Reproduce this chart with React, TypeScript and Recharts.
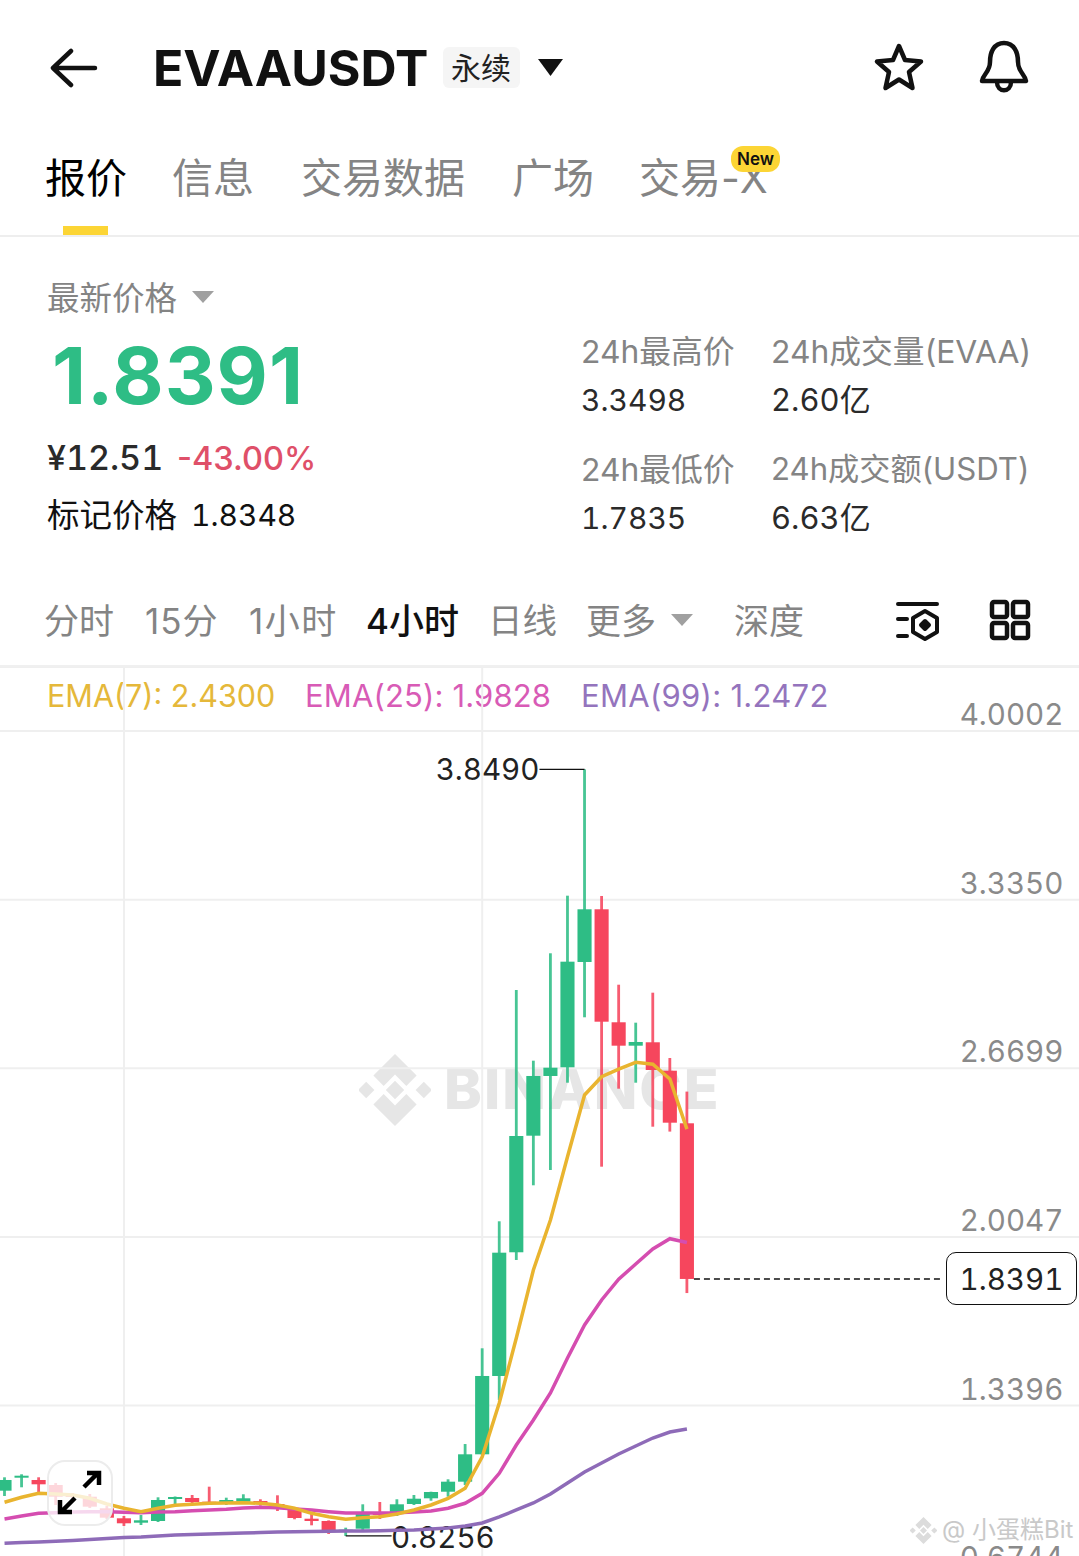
import React from 'react';
import { ComposedChart, Bar, Line, XAxis, YAxis, CartesianGrid } from 'recharts';

const highs = [1.0568,1.0687,1.0568,1.0343,0.9949,0.9910,0.9436,0.9042,0.9081,0.9779,0.9811,0.9870,1.0198,0.9764,0.9898,0.9701,0.9858,0.9357,0.9148,0.8870,0.8581,0.9503,0.9594,0.9701,0.9870,1.0000,1.0489,1.1880,1.5656,2.0665,2.9787,2.6999,3.1235,3.3507,3.8490,3.3495,2.9996,2.8498,2.9681,2.7105,2.5780];
const opens = [1.0040,1.0553,1.0462,1.0265,0.9870,0.9803,0.9346,0.8951,0.8778,0.8845,0.9712,0.9752,0.9606,0.9567,0.9606,0.9634,0.9515,0.9279,0.8935,0.8845,0.8439,0.8541,0.9188,0.9148,0.9515,0.9740,1.0000,1.0395,1.1475,1.4564,1.9443,2.4041,2.6396,2.6739,3.0892,3.2970,2.8514,2.7591,2.7725,2.6604,2.4530];
const closes = [1.0462,1.0631,1.0292,0.9803,0.9791,0.9409,0.8975,0.8754,0.8872,0.9673,0.9791,0.9594,0.9543,0.9673,0.9740,0.9543,0.9346,0.8963,0.8845,0.8462,0.8502,0.9148,0.9081,0.9503,0.9724,0.9988,1.0395,1.1475,1.4564,1.9427,2.4029,2.6396,2.6723,3.0904,3.2970,2.8537,2.7591,2.7737,2.6632,2.4554,1.8391];
const lows = [0.9831,1.0174,0.9961,0.9476,0.9673,0.9357,0.8924,0.8648,0.8687,0.8805,0.9476,0.9515,0.9476,0.9476,0.9543,0.9448,0.9239,0.8912,0.8675,0.8332,0.8256,0.8490,0.8924,0.9042,0.9476,0.9645,0.9803,1.0265,1.1448,1.3617,1.9139,2.2085,2.2688,2.6131,2.8711,2.2819,2.5895,2.6131,2.4396,2.4203,1.7835];
const ema7 = [0.9582,0.9779,0.9937,0.9910,0.9870,0.9740,0.9515,0.9346,0.9212,0.9346,0.9464,0.9503,0.9543,0.9555,0.9567,0.9543,0.9476,0.9346,0.9148,0.9014,0.8912,0.8975,0.9014,0.9121,0.9279,0.9476,0.9740,1.0134,1.1380,1.3499,1.6062,1.8744,2.0716,2.3213,2.5646,2.6368,2.6664,2.6936,2.6857,2.6277,2.4300];
const ema25 = [0.8924,0.9042,0.9148,0.9172,0.9200,0.9212,0.9212,0.9188,0.9172,0.9200,0.9212,0.9251,0.9279,0.9306,0.9357,0.9385,0.9369,0.9318,0.9279,0.9212,0.9160,0.9160,0.9160,0.9172,0.9200,0.9239,0.9346,0.9543,0.9937,1.0726,1.1842,1.2828,1.3893,1.5273,1.6575,1.7561,1.8380,1.8981,1.9572,1.9979,1.9828];
const ema99 = [0.7965,0.7993,0.8020,0.8048,0.8076,0.8111,0.8151,0.8190,0.8214,0.8253,0.8293,0.8308,0.8332,0.8348,0.8371,0.8387,0.8411,0.8423,0.8431,0.8439,0.8450,0.8450,0.8462,0.8478,0.8490,0.8529,0.8569,0.8648,0.8766,0.9003,0.9279,0.9555,0.9910,1.0343,1.0777,1.1132,1.1487,1.1803,1.2118,1.2355,1.2472];
const priceTicks = [4.0002, 3.3350, 2.6699, 2.0047, 1.3396, 0.6744];
const gridSlots = [7, 28];
const lastPrice = 1.8391;

const slots = 64;
const rows = Array.from({ length: slots }, (_, i) => i < highs.length ? ({
  cat: `c${i}`, high: highs[i], low: lows[i], open: opens[i], close: closes[i],
  range: [lows[i], highs[i]], ema7: ema7[i], ema25: ema25[i], ema99: ema99[i],
}) : ({ cat: `c${i}` }));

const maxHigh = Math.max(...highs);
const minLow = Math.min(...lows);
const UP = '#2ebd85', DOWN = '#f6465d';
const FONT = "Inter, 'Noto Sans CJK SC', sans-serif";
const GRAY = '#848484';
const INK = '#2a2a2a';
const TAB = { fontVariantNumeric: 'tabular-nums' };

function Candle(props: any) {
  const { x, y, width, height, payload } = props;
  if (payload == null || payload.high == null || !height) return null;
  const unit = height / (payload.high - payload.low);
  const py = (v: number) => y + (payload.high - v) * unit;
  const cx = x + width / 2;
  const color = payload.close >= payload.open ? UP : DOWN;
  const top = py(Math.max(payload.open, payload.close));
  const bottom = py(Math.min(payload.open, payload.close));
  const bw = width * 0.83;
  return (
    <g>
      <rect x={cx - 1.4} y={y} width={2.8} height={height} fill={color} opacity={0.88} />
      <rect x={cx - bw / 2} y={top} width={bw} height={Math.max(bottom - top, 2)} fill={color} />
      {payload.close === lastPrice && (
        <line x1={cx + bw / 2} x2={cx + width * 15} y1={bottom} y2={bottom} stroke="#111" strokeWidth={1.5} strokeDasharray="6 4" />
      )}
      {payload.high === maxHigh && (
        <g>
          <line x1={cx} x2={cx - width * 2.65} y1={y} y2={y} stroke="#111" strokeWidth={1.3} />
          <text x={cx - width * 2.65} y={y + 11} textAnchor="end" fontSize={29.6} fontFamily={FONT} fill="#222" style={TAB}>{payload.high.toFixed(4)}</text>
        </g>
      )}
      {payload.low === minLow && (
        <g>
          <line x1={cx} x2={cx + width * 2.7} y1={y + height} y2={y + height} stroke="#111" strokeWidth={1.3} />
          <text x={cx + width * 2.66} y={y + height + 12} fontSize={29.6} fontFamily={FONT} fill="#222" style={TAB}>{payload.low.toFixed(4)}</text>
        </g>
      )}
    </g>
  );
}

function PriceTick(props: any) {
  const { y, payload } = props;
  return <text x={1067.5} y={y - 6} textAnchor="end" fontSize={29.6} fontFamily={FONT} fill="#8a8a8a" style={TAB}>{payload.value.toFixed(4)}</text>;
}

function T({ x, y, size, color = INK, weight = 400, children, spacing, tab }: any) {
  return <div style={{ position: 'absolute', left: x, top: y, transform: 'translateY(-50%)', fontSize: size, color, fontWeight: weight, letterSpacing: spacing, whiteSpace: 'nowrap', fontFamily: FONT, lineHeight: 1.2, ...(tab ? TAB : {}) }}>{children}</div>;
}

function Tri({ x, y, w, h, color }: any) {
  return <svg style={{ position: 'absolute', left: x, top: y }} width={w} height={h}><path d={`M0 0H${w}L${w / 2} ${h}Z`} fill={color} /></svg>;
}

function Logo({ x, y, s, color }: any) {
  return (
    <svg style={{ position: 'absolute', left: x, top: y }} width={s} height={s} viewBox="0 0 70 70">
      <g fill={color}>
        <path d="M35 0L56 21L46 31L35 20L24 31L14 21Z" />
        <path d="M35 70L56 49L46 39L35 50L24 39L14 49Z" />
        <path d="M7 27L15 35L7 43L-1 35Z" />
        <path d="M63 27L71 35L63 43L55 35Z" />
        <path d="M35 26L44 35L35 44L26 35Z" />
      </g>
    </svg>
  );
}

export default function App() {
  return (
    <div style={{ position: 'absolute', left: 0, top: 0, width: 1079, height: 1556, overflow: 'hidden', background: '#fff' }}>
      <svg style={{ position: 'absolute', left: 50, top: 46 }} width={48} height={44} fill="none" stroke="#111" strokeWidth={4.5} strokeLinecap="round" strokeLinejoin="round">
        <path d="M3 22H45M21 5L3 22L21 39" />
      </svg>
      <T x={153} y={68} size={50} weight={700} color="#111">EVAAUSDT</T>
      <div style={{ position: 'absolute', left: 443, top: 47, width: 77, height: 41, background: '#f5f5f5', borderRadius: 6 }} />
      <T x={451} y={68} size={30} color="#222">永续</T>
      <Tri x={538} y={59} w={25} h={17} color="#111" />
      <svg style={{ position: 'absolute', left: 873, top: 42 }} width={52} height={50} fill="none" stroke="#111" strokeWidth={4.5} strokeLinejoin="round">
        <path d="M26 4L32 18L48 19.5L36 30L39.5 46L26 37.5L12.5 46L16 30L4 19.5L20 18Z" />
      </svg>
      <svg style={{ position: 'absolute', left: 978, top: 40 }} width={52} height={54} fill="none" stroke="#111" strokeWidth={4.5} strokeLinejoin="round">
        <path d="M26 3C36 3 40 12 40 22C40 32 47 34 48 41H4C5 34 12 32 12 22C12 12 16 3 26 3Z" />
        <path d="M19 42C19 53 33 53 33 42" />
      </svg>

      <T x={45} y={179} size={41} color="#000">报价</T>
      <T x={172} y={179} size={41} color={GRAY}>信息</T>
      <T x={301} y={179} size={41} color={GRAY}>交易数据</T>
      <T x={512} y={179} size={41} color={GRAY}>广场</T>
      <T x={639} y={179} size={41} color={GRAY}>交易-X</T>
      <div style={{ position: 'absolute', left: 731, top: 146, width: 49, height: 26, background: '#fcd535', borderRadius: 12, textAlign: 'center', fontFamily: FONT, fontWeight: 600, fontSize: 17, lineHeight: '26px', color: '#111' }}>New</div>
      <div style={{ position: 'absolute', left: 63, top: 226, width: 45, height: 9, background: '#fcd535' }} />
      <div style={{ position: 'absolute', left: 0, top: 235, width: 1079, height: 2, background: '#eeeeee' }} />

      <T x={47} y={298} size={32.5} color={GRAY}>最新价格</T>
      <Tri x={192} y={291} w={22} h={12} color="#a0a0a0" />
      <T x={52} y={375} size={79} weight={700} color={UP} spacing={1}>1.8391</T>
      <T x={47} y={458} size={34} weight={500} color={INK} tab>¥12.51</T>
      <T x={177} y={458} size={32.5} weight={500} color="#df5069">-43.00%</T>
      <T x={47} y={515} size={32.5} color="#111">标记价格</T>
      <T x={191} y={515} size={30} color="#111" tab>1.8348</T>

      <T x={581} y={352} size={31.8} color={GRAY}>24h最高价</T>
      <T x={581} y={400} size={30} color={INK} tab>3.3498</T>
      <T x={771} y={352} size={31.8} color={GRAY}>24h成交量(EVAA)</T>
      <T x={771} y={400} size={31} color={INK} tab>2.60亿</T>
      <T x={581} y={470} size={31.8} color={GRAY}>24h最低价</T>
      <T x={581} y={518} size={30} color={INK} tab>1.7835</T>
      <T x={771} y={470} size={31.2} color={GRAY}>24h成交额(USDT)</T>
      <T x={771} y={518} size={31} color={INK} tab>6.63亿</T>

      <T x={44} y={621} size={35} color={GRAY}>分时</T>
      <T x={145} y={621} size={35} color={GRAY} spacing={1}>15分</T>
      <T x={249} y={621} size={35} color={GRAY} spacing={1.5}>1小时</T>
      <T x={366} y={621} size={35} weight={500} color="#111">4小时</T>
      <T x={488} y={621} size={34.5} color={GRAY}>日线</T>
      <T x={586} y={621} size={35} color={GRAY}>更多</T>
      <Tri x={671} y={614} w={22} h={12} color="#a0a0a0" />
      <T x={734} y={621} size={35} color={GRAY}>深度</T>
      <svg style={{ position: 'absolute', left: 890, top: 595 }} width={50} height={50} fill="none" stroke="#111" strokeWidth={4} strokeLinecap="round" strokeLinejoin="round">
        <path d="M8 9H47M8 24H17M8 41H17" />
        <path d="M35 16L47 23V37L35 44L23 37V23Z" />
        <path d="M35 26L39 30L35 34L31 30Z" fill="#111" />
      </svg>
      <svg style={{ position: 'absolute', left: 985, top: 595 }} width={50} height={50} fill="none" stroke="#111" strokeWidth={4.5}>
        <rect x={7} y={7} width={15} height={15} rx={2} />
        <rect x={28} y={7} width={15} height={15} rx={2} />
        <rect x={7} y={28} width={15} height={15} rx={2} />
        <rect x={28} y={28} width={15} height={15} rx={2} />
      </svg>
      <div style={{ position: 'absolute', left: 0, top: 665, width: 1079, height: 2, background: '#f0f0f0' }} />

      <T x={47} y={696} size={30.5} color="#e5b83a">EMA(7): 2.4300</T>
      <T x={305} y={696} size={31} color="#d85bb6" spacing={0.15}>EMA(25): 1.9828</T>
      <T x={581} y={696} size={31} color="#9474bd" spacing={0.3}>EMA(99): 1.2472</T>

      <Logo x={359} y={1054} s={72} color="#e6e6e6" />
      <T x={444} y={1089} size={57} weight={800} color="#e6e6e6" spacing={2}>BINANCE</T>

      <div style={{ position: 'absolute', left: -3.83, top: 667 }}>
        <ComposedChart width={slots * 17.06} height={934} data={rows} margin={{ top: 0, right: 0, bottom: 0, left: 0 }} barCategoryGap={0}>
          <CartesianGrid stroke="#efefef" strokeWidth={2} verticalCoordinatesGenerator={(p: any) => gridSlots.map((i) => (i + 0.5) * p.width / slots)} />
          <XAxis dataKey="cat" interval={0} tick={false} axisLine={false} tickLine={false} height={1} />
          <YAxis orientation="right" mirror width={1} domain={[0.5729, 4.2526]} allowDataOverflow ticks={priceTicks} interval={0} axisLine={false} tickLine={false} tick={<PriceTick />} />
          <Bar dataKey="range" shape={<Candle />} isAnimationActive={false} />
          <Line dataKey="ema99" stroke="#8e6bb8" strokeWidth={3.5} dot={false} isAnimationActive={false} />
          <Line dataKey="ema25" stroke="#d54db0" strokeWidth={3.5} dot={false} isAnimationActive={false} />
          <Line dataKey="ema7" stroke="#e9b42f" strokeWidth={3.5} dot={false} isAnimationActive={false} />
        </ComposedChart>
      </div>

      <div style={{ position: 'absolute', left: 946, top: 1252, width: 131, height: 53, boxSizing: 'border-box', border: '1.7px solid #111', borderRadius: 10, background: '#fff', textAlign: 'center', fontFamily: FONT, fontSize: 29.6, lineHeight: '52px', color: '#222', ...TAB }}>1.8391</div>

      <div style={{ position: 'absolute', left: 47, top: 1460, width: 66, height: 66, boxSizing: 'border-box', border: '2px solid #ececec', borderRadius: 18, background: 'rgba(255,255,255,0.78)' }} />
      <svg style={{ position: 'absolute', left: 47, top: 1460 }} width={66} height={66} fill="none" stroke="#000" strokeWidth={4.5}>
        <path d="M37 27L51 13M40 13H52V25" />
        <path d="M28 38L14 52M13 40V52H25" />
      </svg>

      <Logo x={910} y={1517} s={27} color="#dcdcdc" />
      <T x={942} y={1530} size={24} color="#c9c9c9">@ 小蛋糕Bit</T>
    </div>
  );
}
